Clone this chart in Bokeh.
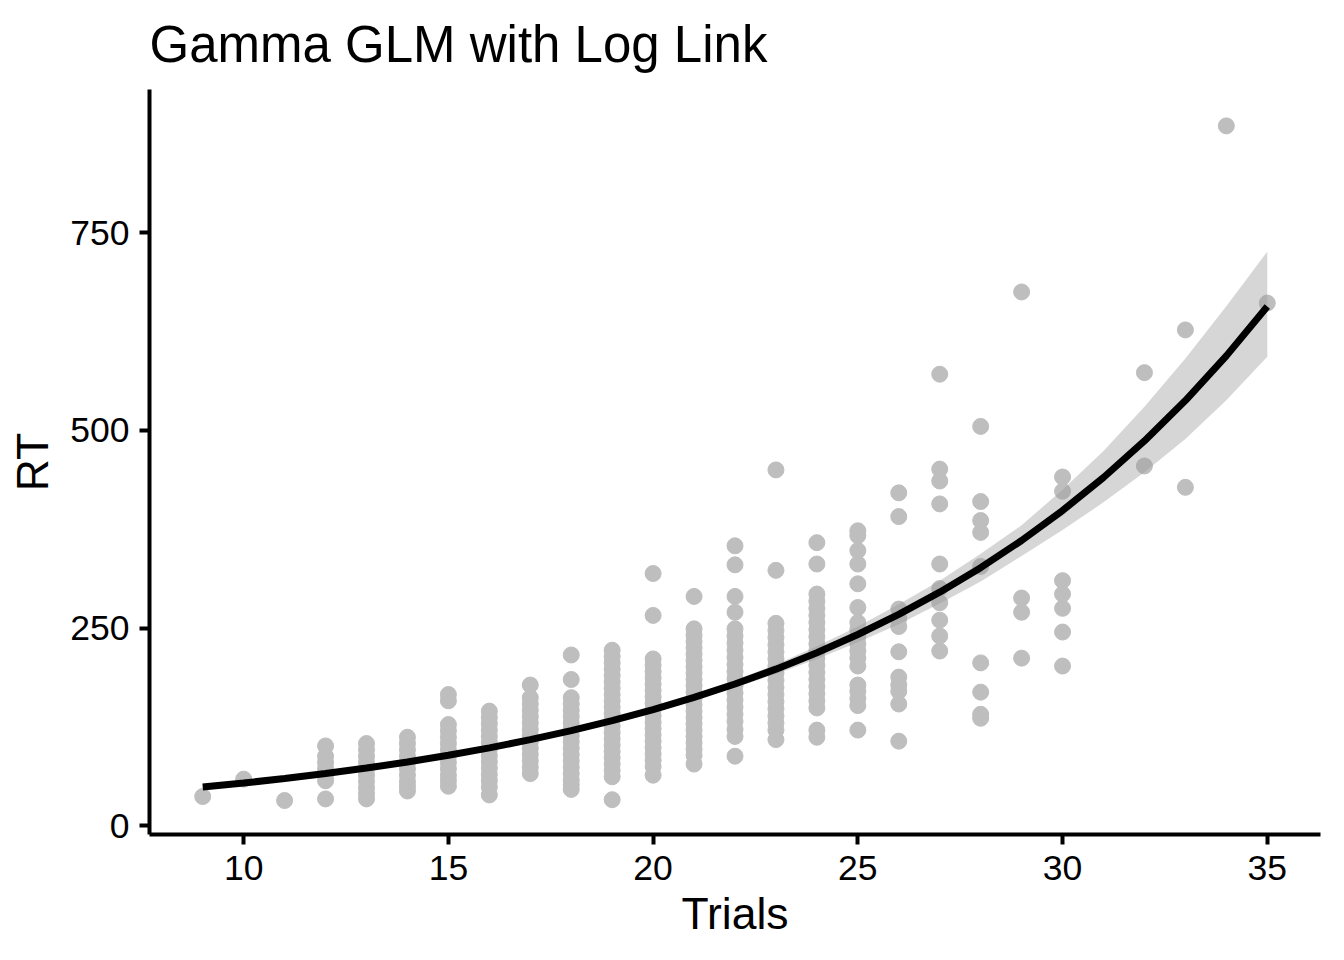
from bokeh.plotting import figure
from bokeh.models import Range1d, FixedTicker
from bokeh.embed import file_html
from bokeh.resources import INLINE

trial_levels = [9, 10, 11, 12, 13, 14, 15, 16, 17, 18, 19, 20, 21, 22, 23, 24, 25, 26, 27, 28, 29, 30, 32, 33, 34, 35]
rt_by_trial = [
    [37],
    [59],
    [32],
    [101, 88, 80, 72, 64, 57, 34],
    [104, 96, 88, 80, 72, 64, 56, 48, 41, 34],
    [112, 104, 96, 88, 80, 72, 64, 56, 50, 44],
    [166, 158, 128, 120, 112, 104, 96, 88, 80, 72, 64, 57, 50],
    [145, 137, 129, 121, 113, 105, 97, 89, 81, 73, 65, 57, 49, 39],
    [178, 162, 154, 146, 138, 130, 122, 114, 106, 98, 90, 82, 74, 66],
    [216, 185, 162, 154, 146, 138, 130, 122, 114, 106, 98, 90, 82, 74, 66, 58, 52, 46],
    [222, 214, 206, 198, 190, 182, 174, 166, 158, 150, 142, 134, 126, 118, 110, 102, 94, 86, 78, 70, 62, 33],
    [319, 266, 211, 203, 195, 187, 179, 171, 163, 155, 147, 139, 131, 123, 115, 107, 99, 91, 83, 75, 64],
    [290, 249, 241, 233, 225, 217, 209, 201, 193, 185, 177, 169, 161, 153, 145, 137, 129, 121, 113, 105, 97, 89, 78],
    [354, 330, 290, 270, 249, 240, 231, 222, 213, 204, 195, 186, 177, 168, 159, 150, 141, 132, 122, 113, 88],
    [450, 323, 256, 247, 238, 229, 220, 211, 202, 193, 184, 175, 166, 157, 148, 139, 130, 121, 109],
    [358, 331, 293, 284, 275, 266, 257, 248, 239, 230, 221, 212, 203, 194, 185, 176, 167, 158, 149, 121, 112],
    [373, 367, 348, 331, 306, 276, 257, 248, 239, 230, 221, 212, 202, 178, 170, 161, 152, 121],
    [421, 391, 274, 262, 252, 220, 188, 178, 170, 154, 107],
    [571, 451, 436, 407, 331, 300, 282, 260, 240, 221],
    [505, 410, 386, 371, 328, 206, 169, 141, 136],
    [675, 288, 270, 212],
    [441, 423, 310, 293, 275, 245, 202],
    [573, 455],
    [627, 428],
    [885],
    [661],
]

# fitted Gamma GLM (log link) curve and its confidence band
fit_x = [9, 10, 11, 12, 13, 14, 15, 16, 17, 18, 19, 20, 21, 22, 23, 24, 25, 26, 27, 28, 29, 30, 31, 32, 33, 34, 35]
fit_y = [49, 54.1, 59.8, 66.1, 73.0, 80.7, 89.2, 98.5, 108.9, 120.3, 132.9, 146.9, 162.3, 179.3,
         198.1, 218.9, 241.9, 267.3, 295.4, 326.4, 360.7, 398.6, 440.4, 486.6, 537.7, 594.2, 656.6]
fit_lo = [46, 51, 57, 63.5, 70.5, 78, 86.5, 96, 106, 117.5, 130, 144, 159, 175,
          192, 211, 232, 255, 281, 309, 341, 374, 409, 447, 489, 538, 593]
fit_hi = [52, 57.5, 63, 69, 75.5, 83.5, 92, 101.5, 112, 123.5, 136, 150, 166, 184,
          204, 227, 252, 280, 310, 344, 380, 425, 474, 530, 591, 657, 726]

x_ticks = [10, 15, 20, 25, 30, 35]
y_ticks = [0, 250, 500, 750]

pts_x = []
pts_y = []
for i in range(len(trial_levels)):
    for v in rt_by_trial[i]:
        pts_x.append(trial_levels[i])
        pts_y.append(v)

font = "Liberation Sans"

p = figure(width=1328, height=944, output_backend="svg", toolbar_location=None,
           x_range=Range1d(7.7, 36.3), y_range=Range1d(-11, 931),
           title="Gamma GLM with Log Link",
           x_axis_label="Trials", y_axis_label="RT",
           min_border_left=149, min_border_right=8, min_border_top=88, min_border_bottom=110)

p.scatter(pts_x, pts_y, size=16, color="#BEBEBE")
p.varea(x=fit_x, y1=fit_lo, y2=fit_hi, fill_color="#999999", fill_alpha=0.4)
p.line(fit_x, fit_y, line_width=7, color="black")

p.title.text_font = font
p.title.text_font_size = "51px"
p.title.text_font_style = "normal"
p.title.text_color = "black"
p.title.vertical_align = "top"
p.title.standoff = 30

p.outline_line_color = None
p.xgrid.visible = False
p.ygrid.visible = False

p.xaxis.ticker = FixedTicker(ticks=x_ticks)
p.yaxis.ticker = FixedTicker(ticks=y_ticks)

for ax in [p.xaxis[0], p.yaxis[0]]:
    ax.axis_line_width = 4
    ax.axis_line_color = "black"
    ax.major_tick_line_width = 4
    ax.major_tick_line_color = "black"
    ax.major_tick_in = 0
    ax.major_tick_out = 10
    ax.minor_tick_line_color = None
    ax.major_label_text_font = font
    ax.major_label_text_font_size = "35.5px"
    ax.major_label_text_color = "black"
    ax.axis_label_text_font = font
    ax.axis_label_text_font_size = "44.5px"
    ax.axis_label_text_font_style = "normal"
    ax.axis_label_text_color = "black"

p.xaxis.major_label_standoff = 11
p.xaxis.axis_label_standoff = 6
p.yaxis.major_label_standoff = 10
p.yaxis.axis_label_standoff = 10

open("out.html", "w").write(file_html(p, INLINE))
